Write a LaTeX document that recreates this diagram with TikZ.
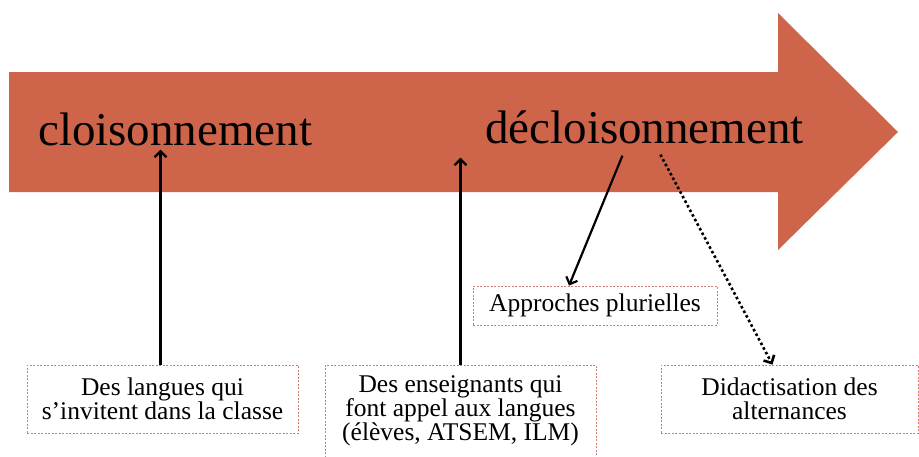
\documentclass[tikz,border=0pt]{standalone}
\usepackage{fontspec}
\setmainfont{Liberation Serif}
\usetikzlibrary{arrows.meta}

\definecolor{arrowfill}{RGB}{206,100,73}
\definecolor{boxline}{RGB}{208,125,115}

\begin{document}
\begin{tikzpicture}[
    x=1pt, y=-1pt,
    stage/.style={font=\fontsize{47}{56}\selectfont, inner sep=4pt, anchor=base west},
    box/.style={draw=boxline, dash pattern=on 2pt off 1.5pt, line width=0.8pt,
        fill=white, align=center, inner sep=0pt, font=\fontsize{25.5}{24}\selectfont},
    link/.style={line width=2.2pt, -{Straight Barb[length=6pt,width=12pt]}},
    dotlink/.style={link, line width=2.6pt, dash pattern=on 2.6pt off 2.6pt}
]
    \useasboundingbox (0,0) rectangle (919,456);
    % the long arrow
    \fill[arrowfill] (9,72) -- (778,72) -- (778,13) -- (898,132)
        -- (778,250) -- (778,192) -- (9,192) -- cycle;
    \node[stage] (cloison) at (34,145) {cloisonnement};
    \node[stage] (decloison) at (481,143) {décloisonnement};
    % boxes
    \node[box, minimum width=271pt, minimum height=68pt] (langues) at (162.5,399)
        {Des langues qui\\s’invitent dans la classe};
    \node[box, minimum width=271pt, minimum height=92pt] (enseignants) at (460.5,411)
        {Des enseignants qui\\font appel aux langues\\(élèves, ATSEM, ILM)};
    \node[box, minimum width=244pt, minimum height=39pt] (approches) at (595,305.5)
        {Approches plurielles};
    \node[box, minimum width=257pt, minimum height=68pt] (didact) at (789.5,399)
        {Didactisation des\\alternances};
    % links
    \draw[link] ([xshift=-2pt]langues.north) -- ([xshift=-2pt]langues.north |- cloison.south);
    \draw[link] (enseignants.north) -- ([yshift=-10pt]enseignants.north |- decloison.south);
    \draw[link] ([xshift=-22pt, yshift=-8pt]decloison.south) -- ([xshift=-26pt]approches.north);
    \draw[dotlink] ([xshift=16pt, yshift=-7pt]decloison.south) -- ([xshift=-17pt]didact.north);
\end{tikzpicture}
\end{document}
